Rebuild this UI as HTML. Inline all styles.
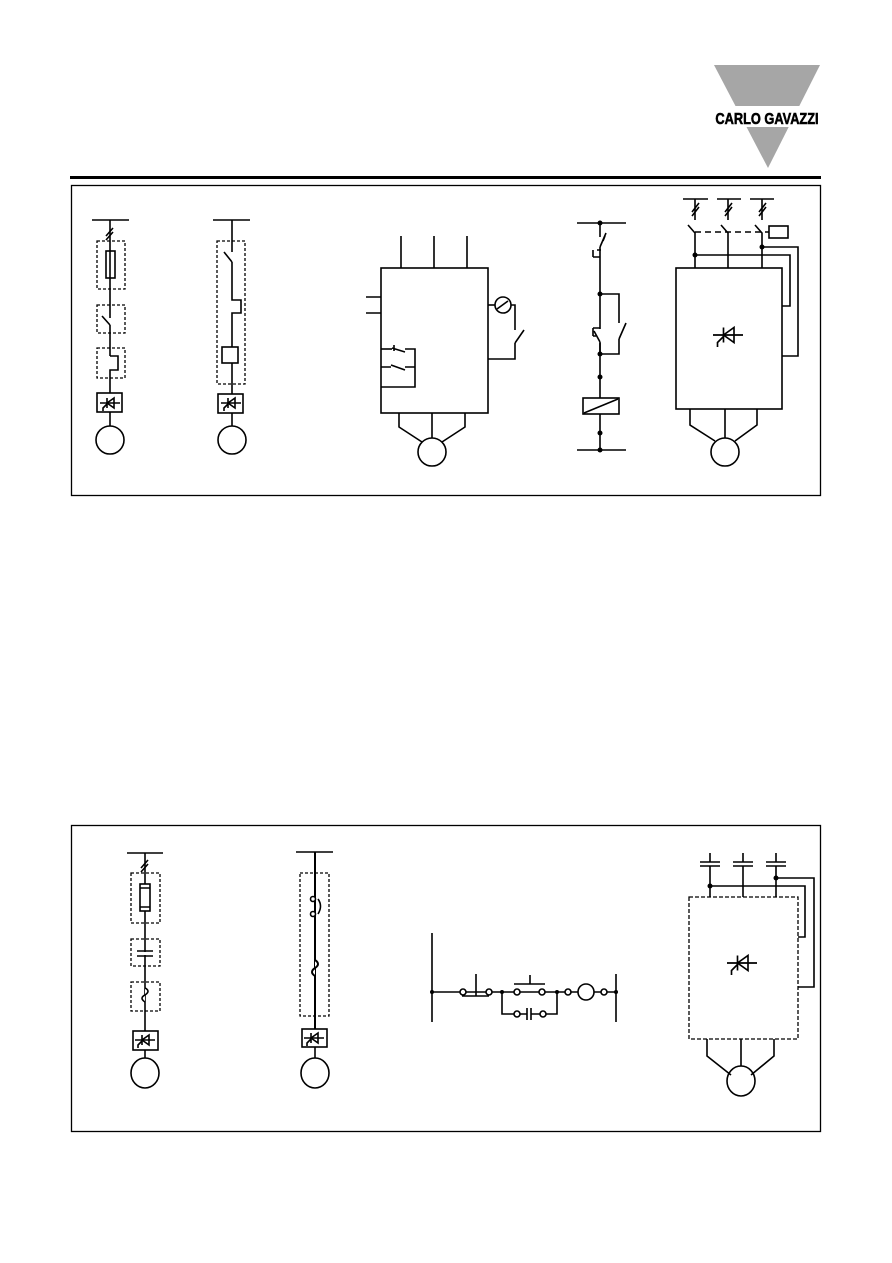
<!DOCTYPE html>
<html><head><meta charset="utf-8"><style>
html,body{margin:0;padding:0;background:#fff}
svg{display:block}
</style></head><body>
<svg width="892" height="1263" viewBox="0 0 892 1263" xmlns="http://www.w3.org/2000/svg">
<defs>
<g id="thy">
<line x1="-10" y1="0" x2="10" y2="0"/>
<line x1="-3" y1="-5" x2="-3" y2="5"/>
<polygon points="4,-5 4,5 -3,0" fill="none"/>
<polyline points="-3,1 -7,5 -7,8" fill="none"/>
</g>
</defs>
<!-- logo -->
<polygon points="714,65 820,65 768,168" fill="#a6a6a6"/>
<rect x="706" y="106" width="120" height="21" fill="#fff"/>
<text x="767" y="124" text-anchor="middle" font-family="Liberation Sans, sans-serif" font-weight="bold" font-size="16" stroke="#000" stroke-width="0.6" transform="translate(767,0) scale(0.8,1) translate(-767,0)" fill="#000">CARLO GAVAZZI</text>
<rect x="70" y="176" width="751" height="3" fill="#000"/>

<g fill="none" stroke="#000" stroke-width="1.6">
<!-- panels -->
<rect x="71.5" y="185.5" width="749" height="310" stroke-width="1.3"/>
<rect x="71.5" y="825.5" width="749" height="306" stroke-width="1.3"/>

<!-- P1 col1 -->
<line x1="92" y1="220" x2="129" y2="220"/>
<line x1="110" y1="220" x2="110" y2="318"/>
<path d="M106 236 L113 228 M106 240 L113 232"/>
<g stroke-dasharray="3,2" stroke-width="1.3">
<rect x="97" y="241" width="28" height="48"/>
<rect x="97" y="305" width="28" height="28"/>
<rect x="97" y="348" width="28" height="30"/>
</g>
<rect x="106" y="251" width="9" height="27"/>
<line x1="102" y1="316" x2="110" y2="325"/>
<line x1="110" y1="325" x2="110" y2="356"/>
<polyline points="110,356 118,356 118,370 110,370 110,393"/>
<rect x="97" y="393" width="25" height="19"/>
<use href="#thy" x="110" y="403"/>
<line x1="110" y1="412" x2="110" y2="426"/>
<circle cx="110" cy="440" r="14"/>

<!-- P1 col2 -->
<line x1="213" y1="220" x2="250" y2="220"/>
<line x1="232" y1="220" x2="232" y2="252"/>
<line x1="224" y1="252" x2="232" y2="262"/>
<polyline points="232,262 232,300 241,300 241,313 232,313 232,347"/>
<rect x="217" y="241" width="28" height="143" stroke-dasharray="3,2" stroke-width="1.3"/>
<rect x="222" y="347" width="16" height="16"/>
<line x1="232" y1="363" x2="232" y2="394"/>
<rect x="218" y="394" width="25" height="19"/>
<use href="#thy" x="231" y="403"/>
<line x1="232" y1="413" x2="232" y2="426"/>
<circle cx="232" cy="440" r="14"/>

<!-- P1 col3 -->
<rect x="381" y="268" width="107" height="145"/>
<path d="M401 236V268 M434 236V268 M467 236V268 M366 297H381 M366 313H381"/>
<circle cx="503" cy="305" r="8"/>
<line x1="497" y1="309" x2="508" y2="301"/>
<line x1="488" y1="305" x2="495" y2="305"/>
<polyline points="511,305 515,305 515,330"/>
<line x1="515" y1="343" x2="524" y2="330"/>
<polyline points="515,343 515,359 488,359"/>
<polyline points="381,349 392,349"/>
<polyline points="405,349 415,349 415,387 381,387"/>
<path d="M392 348 L405 352 M394 345 V351 M381 367 H391 M391 365 L405 370 M405 367 H415"/>
<path d="M399 413V427L422 442 M432 413V438 M465 413V427L442 442"/>
<circle cx="432" cy="452" r="14"/>

<!-- P1 col4 -->
<line x1="577" y1="223" x2="626" y2="223"/>
<polyline points="600,223 600,237"/>
<line x1="600" y1="247" x2="606" y2="233"/>
<path d="M600 247V329 M600 294H619V323 M619 339L626 323 M600 343V398 M600 414V450 M577 450H626"/>
<path d="M597 250H601 M593 257H600 M593 250V257 M603 241L605 236"/>
<path d="M593 328H600 M593 336H596 M593 328V336"/>
<line x1="594" y1="331" x2="600" y2="342"/>
<line x1="600" y1="342" x2="600" y2="354"/>
<polyline points="600,354 619,354 619,339"/>
<rect x="583" y="398" width="36" height="16"/>
<line x1="584" y1="413" x2="618" y2="399"/>

<!-- P1 col5 -->
<path d="M683 199H708 M717 199H741 M750 199H774"/>
<path d="M695 199V220 M728 199V220 M762 199V220"/>
<path d="M692 212L699 203 M692 216L699 207 M725 212L732 203 M725 216L732 207 M759 212L766 203 M759 216L766 207"/>
<path d="M688 225L695 233V268 M721 225L728 233V268 M755 225L762 233V268"/>
<path d="M695 232H769" stroke-dasharray="6,4"/>
<rect x="769" y="226" width="19" height="12"/>
<polyline points="695,255 790,255 790,306 782,306"/>
<polyline points="762,247 798,247 798,356 782,356"/>
<rect x="676" y="268" width="106" height="141"/>
<g transform="translate(728,335) scale(1.5)" stroke-width="1.1"><use href="#thy"/></g>
<path d="M690 409V425L715 441 M725 409V438 M757 409V425L735 441"/>
<circle cx="725" cy="452" r="14"/>
</g>
<g fill="#000">
<circle cx="600" cy="223" r="2.5"/><circle cx="600" cy="294" r="2.5"/><circle cx="600" cy="354" r="2.5"/>
<circle cx="600" cy="377" r="2.5"/><circle cx="600" cy="433" r="2.5"/><circle cx="600" cy="450" r="2.5"/>
<circle cx="695" cy="255" r="2.5"/><circle cx="762" cy="247" r="2.5"/>
<circle cx="710" cy="886" r="2.5"/><circle cx="776" cy="878" r="2.5"/>
<circle cx="432" cy="992" r="2"/><circle cx="502" cy="992" r="2"/><circle cx="557" cy="992" r="2"/><circle cx="616" cy="992" r="2"/>
</g>

<g fill="none" stroke="#000" stroke-width="1.6">
<!-- P2 col1 -->
<line x1="127" y1="853" x2="163" y2="853"/>
<line x1="145" y1="853" x2="145" y2="1031"/>
<path d="M141 868L148 860 M141 872L148 864"/>
<g stroke-dasharray="3,2" stroke-width="1.3">
<rect x="131" y="873" width="29" height="50"/>
<rect x="131" y="939" width="29" height="27"/>
<rect x="131" y="982" width="29" height="29"/>
</g>
<rect x="140" y="884" width="10" height="27" fill="#fff"/>
<path d="M140 888H150 M140 907H150"/>
<path d="M137 951H153 M137 956H153" />
<rect x="143" y="952" width="4" height="3" fill="#fff" stroke="none"/>
<path d="M145 988 q6 3 0 7 q-6 3 0 7" fill="#fff"/>
<rect x="133" y="1031" width="25" height="19"/>
<use href="#thy" x="145" y="1040"/>
<line x1="145" y1="1050" x2="145" y2="1058"/>
<ellipse cx="145" cy="1073" rx="14" ry="15"/>

<!-- P2 col2 -->
<line x1="296" y1="852" x2="333" y2="852"/>
<line x1="315" y1="852" x2="315" y2="1029" stroke-width="2"/>
<rect x="300" y="873" width="29" height="143" stroke-dasharray="3,2" stroke-width="1.3"/>
<circle cx="313" cy="899" r="2.5" fill="#fff"/><circle cx="313" cy="914" r="2.5" fill="#fff"/>
<path d="M318 899 q5 7 0 15"/>
<path d="M315 960 q6 4 0 8 q-6 4 0 8" fill="#fff" stroke-width="2"/>
<rect x="302" y="1029" width="25" height="18"/>
<use href="#thy" x="314" y="1038"/>
<line x1="315" y1="1047" x2="315" y2="1058"/>
<ellipse cx="315" cy="1073" rx="14" ry="15"/>

<!-- P2 col3 -->
<path d="M432 933V1022 M616 974V1022"/>
<path d="M432 992H460 M466 992H486 M492 992H514 M520 992H539 M545 992H565 M571 992H578 M594 992H601 M607 992H616"/>
<path d="M462 996H489 M476 974V996 M514 984H545 M530 975V984"/>
<circle cx="463" cy="992" r="3"/><circle cx="489" cy="992" r="3"/>
<circle cx="517" cy="992" r="3"/><circle cx="542" cy="992" r="3"/>
<circle cx="568" cy="992" r="3"/><circle cx="586" cy="992" r="8"/><circle cx="604" cy="992" r="3"/>
<path d="M502 992V1014H514 M520 1014H527 M527 1008V1020 M531 1008V1020 M531 1014H540 M546 1014H557V992"/>
<circle cx="517" cy="1014" r="3"/><circle cx="543" cy="1014" r="3"/>

<!-- P2 col4 -->
<path d="M700 862H720 M700 866H720 M733 862H753 M733 866H753 M766 862H786 M766 866H786"/>
<path d="M710 853V862 M710 866V897 M743 853V862 M743 866V897 M776 853V862 M776 866V897"/>
<polyline points="710,886 805,886 805,937 798,937"/>
<polyline points="776,878 814,878 814,987 798,987"/>
<rect x="689" y="897" width="109" height="142" stroke-dasharray="4,2" stroke-width="1.3"/>
<g transform="translate(742,963) scale(1.5)" stroke-width="1.1"><use href="#thy"/></g>
<path d="M707 1039V1056L731 1075 M741 1039V1066 M774 1039V1056L751 1075"/>
<ellipse cx="741" cy="1081" rx="14" ry="15"/>
</g>
</svg>
</body></html>
